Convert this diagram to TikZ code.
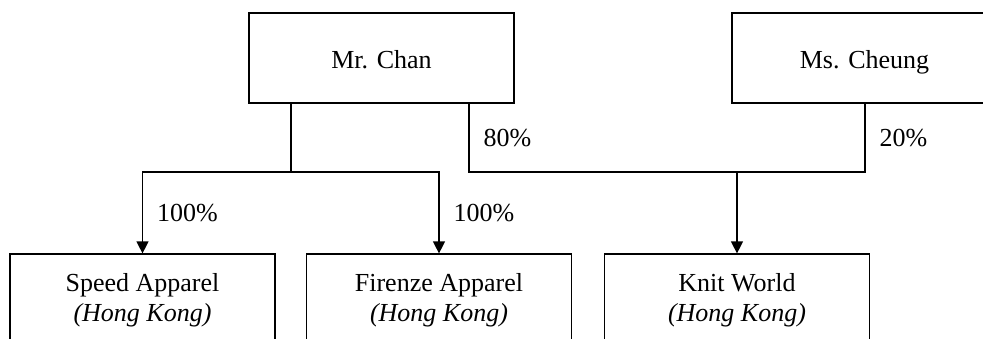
\documentclass[tikz,border=0pt]{standalone}
\usepackage{fontspec}
\setmainfont{Liberation Serif}
\usetikzlibrary{arrows.meta}

\tikzset{
	owner/.style={draw, line width=1.2pt, minimum width=265pt, minimum height=90pt, text height=24pt, text depth=3pt, font=\fontsize{26}{30}\selectfont},
	company/.style={draw, line width=1.2pt, minimum width=265pt, minimum height=92pt, align=center, font=\fontsize{26}{30}\selectfont},
	share/.style={font=\fontsize{26}{30}\selectfont, inner sep=0pt, anchor=west, xshift=14pt},
	link/.style={line width=1.2pt},
	stake/.style={line width=1.2pt, -{Triangle[length=12pt,width=12pt]}}
}

\begin{document}
\begin{tikzpicture}[x=1pt,y=1pt]
		\useasboundingbox (0,0) rectangle (983,338);

		\node[owner] (chan) at (381.5,280) {Mr. Chan};
		\node[owner] (cheung) at (864.5,280) {Ms. Cheung};

		\node[company] (speed) at (142.5,38) {Speed Apparel\\\textit{(Hong Kong)}};
		\node[company] (firenze) at (439,38) {Firenze Apparel\\\textit{(Hong Kong)}};
		\node[company] (knit) at (737,38) {Knit World\\\textit{(Hong Kong)}};

		\coordinate (split) at (291,166);
		\coordinate (c80) at (469,166);
		\coordinate (c20) at (865,166);

		% Mr. Chan owns both apparel firms
		\draw[link] (chan.south -| split) -- (split);
		\draw[stake] (split) -| (speed.north) node[share, pos=0.75] (p1) {100\%};
		\draw[stake] (split) -| (firenze.north) node[share, pos=0.75] (p2) {100\%};

		% joint holding in Knit World
		\draw[link] (chan.south -| c80) -- node[share] (p3) {80\%} (c80) -- (c20)
			-- node[share] (p4) {20\%} (cheung.south -| c20);
		\draw[stake] (knit.north |- c80) -- (knit.north);
	\end{tikzpicture}
\end{document}
